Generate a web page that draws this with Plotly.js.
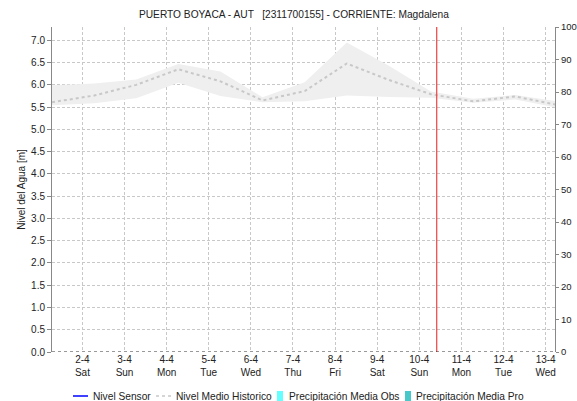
<!DOCTYPE html>
<html>
<head>
<meta charset="utf-8">
<script src="https://cdn.plot.ly/plotly-3.0.1.min.js"></script>
<style>html,body{margin:0;padding:0;background:#fff;}#chart{width:577px;height:401px;}</style>
</head>
<body>
<div id="chart"></div>
<script>
// ---- data ----
const dates = ['2022-04-01 06:40','2022-04-02 06:40','2022-04-03 06:40','2022-04-04 06:40','2022-04-05 06:40',
  '2022-04-06 06:40','2022-04-07 06:40','2022-04-08 06:40','2022-04-09 06:40','2022-04-10 06:40',
  '2022-04-11 06:40','2022-04-12 06:40','2022-04-13 06:40'];
const medianLevel = [5.61,5.76,6.00,6.35,6.08,5.65,5.86,6.48,6.11,5.79,5.63,5.74,5.55];
const upperLevel  = [5.99,6.03,6.12,6.47,6.30,5.72,6.06,6.95,6.43,5.85,5.69,5.77,5.63];
const lowerLevel  = [5.54,5.59,5.70,6.05,5.75,5.61,5.63,5.76,5.73,5.71,5.60,5.67,5.49];
const sensorDates = [];
const sensorLevel = [];
const precipObsDates = [];
const precipObs = [];
const precipProDates = [];
const precipPro = [];
const nowTime = '2022-04-10 09:55';
const titleText = 'PUERTO BOYACA - AUT \u00a0\u00a0[2311700155] - CORRIENTE: Magdalena';
const legendNames = ['Nivel Sensor','Nivel Medio Historico','Precipitación Media Obs','Precipitación Media Pro'];
const xRange = ['2022-04-01 06:40','2022-04-13 05:20'];

// ---- geometry helpers (pixel -> paper) ----
const W = 577, H = 401, M = {l:52, r:22, t:27, b:49};
const pw = W - M.l - M.r, ph = H - M.t - M.b;
const px = x => (x - M.l) / pw;
const py = y => (H - M.b - y) / ph;

const FONT = 'Liberation Sans, Arial, sans-serif';
const colors = {sensor:'#0000ff', median:'#c8c8c8', band:'#efefef', obs:'#66ffff', pro:'#48c8c8', now:'#f04040'};

const traces = [
  {x: dates, y: lowerLevel, type:'scatter', mode:'lines', line:{width:0, color:colors.band}, showlegend:false, hoverinfo:'skip'},
  {x: dates, y: upperLevel, type:'scatter', mode:'lines', fill:'tonexty', fillcolor:colors.band, line:{width:0, color:colors.band}, showlegend:false, hoverinfo:'skip'},
  {x: precipObsDates, y: precipObs, type:'bar', yaxis:'y2', name:legendNames[2], marker:{color:colors.obs}},
  {x: precipProDates, y: precipPro, type:'bar', yaxis:'y2', name:legendNames[3], marker:{color:colors.pro}},
  {x: dates, y: medianLevel, type:'scatter', mode:'lines', name:legendNames[1], line:{color:colors.median, width:2, dash:'3px,3px'}},
  {x: sensorDates, y: sensorLevel, type:'scatter', mode:'lines', name:legendNames[0], line:{color:colors.sensor, width:1.5}}
];

// legend drawn manually in the bottom strip
const ly = 396;
const shapes = [
  {type:'line', xref:'x', yref:'paper', x0:nowTime, x1:nowTime, y0:0, y1:1, line:{color:colors.now, width:1.2}},
  {type:'line', xref:'paper', yref:'y', x0:0, x1:1, y0:0, y1:0, line:{color:'#333', width:1, dash:'dot'}},
  {type:'line', xref:'paper', yref:'paper', x0:px(73), x1:px(88), y0:py(ly), y1:py(ly), line:{color:colors.sensor, width:1.5}},
  {type:'line', xref:'paper', yref:'paper', x0:px(156), x1:px(171), y0:py(ly), y1:py(ly), line:{color:colors.median, width:1.5, dash:'3px,3px'}},
  {type:'rect', xref:'paper', yref:'paper', x0:px(277), x1:px(283), y0:py(391), y1:py(401), fillcolor:colors.obs, line:{width:0}},
  {type:'rect', xref:'paper', yref:'paper', x0:px(405), x1:px(411), y0:py(391), y1:py(401), fillcolor:colors.pro, line:{width:0}}
];
const legX = [91, 174, 287, 414];
const annotations = legendNames.map((n,i) => ({
  text:n, xref:'paper', yref:'paper', x:px(legX[i]), y:py(ly), xanchor:'left', yanchor:'middle',
  showarrow:false, font:{family:FONT, size:10.2, color:'#222'}
}));

const layout = {
  width:W, height:H, margin:M, paper_bgcolor:'#fff', plot_bgcolor:'#fff',
  showlegend:false, bargap:0.2,
  font:{family:FONT, size:10, color:'#222'},
  title:{text:titleText, x:277.5/W, xanchor:'center', xref:'paper', y:1-14/H, yanchor:'middle', yref:'container',
         font:{family:FONT, size:10.2, color:'#222'}},
  xaxis:{type:'date', range:xRange, tickmode:'linear', tick0:'2022-04-02', dtick:86400000,
         tickformat:'%-d-%-m<br>%a', showgrid:true, gridcolor:'#c8c8c8', griddash:'3px,2px', gridwidth:1,
         ticks:'', showline:false, zeroline:false, tickfont:{size:10}, fixedrange:true},
  yaxis:{range:[0,7.3], tick0:0, dtick:0.5, tickformat:'.1f', ticks:'outside', ticklen:4, tickcolor:'#888',
         showline:true, linecolor:'#888', linewidth:1, showgrid:true, gridcolor:'#c8c8c8', griddash:'3px,2px',
         zeroline:false, tickfont:{size:10}, title:{text:'Nivel del Agua [m]', font:{size:10}, standoff:3}},
  yaxis2:{overlaying:'y', side:'right', range:[0,100], tick0:0, dtick:10, ticks:'outside', ticklen:3, tickcolor:'#888',
          showline:true, linecolor:'#888', linewidth:1, showgrid:false, zeroline:false, tickfont:{size:9.5}},
  shapes:shapes, annotations:annotations
};

Plotly.newPlot('chart', traces, layout, {displayModeBar:false, staticPlot:true});
</script>
</body>
</html>
